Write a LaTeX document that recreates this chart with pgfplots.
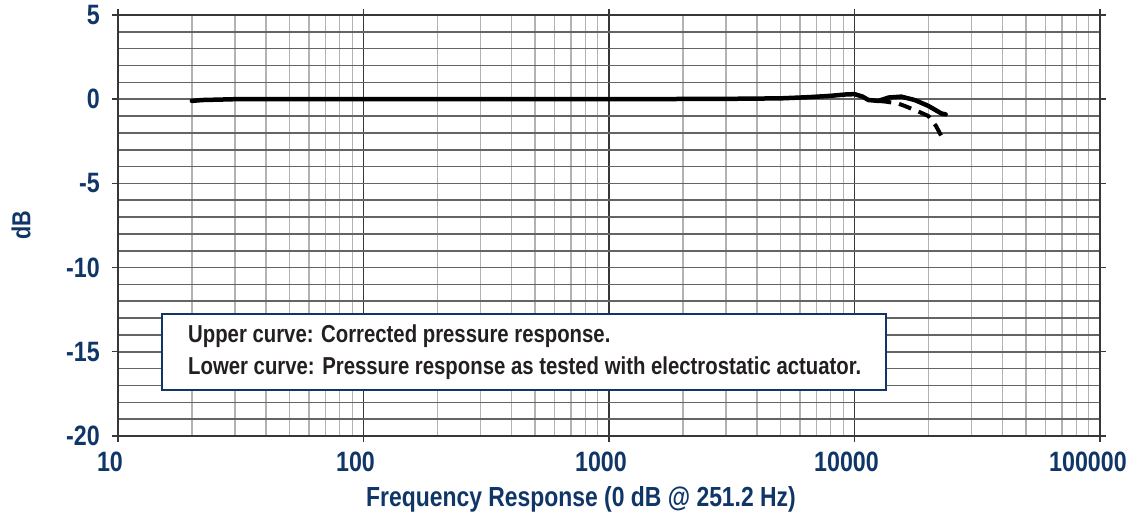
\documentclass[border=0pt]{standalone}
\usepackage{fontspec}
\setmainfont{Liberation Sans}[FakeStretch=0.83]
\usepackage{pgfplots}
\pgfplotsset{compat=1.18}
\definecolor{lblue}{RGB}{16,54,104}
\definecolor{txtblack}{RGB}{35,31,32}
\definecolor{hgrid}{RGB}{100,100,100}
\definecolor{vgrid}{RGB}{178,178,178}
\definecolor{dgrid}{RGB}{55,55,55}
\begin{document}
\begin{tikzpicture}
\begin{axis}[
  scale only axis,
  width=982pt, height=421pt,
  xmode=log, xmin=10, xmax=100000,
  ymin=-20, ymax=5,
  xtick={10,100,1000,10000,100000},
  xticklabels={10,100,1000,10000,\hspace*{-8pt}100000},
  minor xtick={20,30,40,50,60,70,80,90,200,300,400,500,600,700,800,900,2000,3000,4000,5000,6000,7000,8000,9000,20000,30000,40000,50000,60000,70000,80000,90000},
  ytick={-20,-15,-10,-5,0,5},
  yticklabels={-20,-15,-10,-5,0,5},
  minor ytick={-19,-18,-17,-16,-14,-13,-12,-11,-9,-8,-7,-6,-4,-3,-2,-1,1,2,3,4},
  grid=both,
  major x grid style={dgrid, line width=1.3pt},
  minor x grid style={vgrid, line width=1.4pt},
  major y grid style={hgrid, line width=1.6pt},
  minor y grid style={hgrid, line width=1.6pt},
  axis line style={dgrid, line width=1.6pt},
  tick align=outside,
  major tick length=6pt,
  minor tick length=0pt,
  tick style={dgrid, line width=1.4pt},
  ticklabel style={font=\bfseries\fontsize{28}{30}\selectfont, text=lblue, inner sep=0pt},
  xticklabel style={anchor=north, yshift=-10pt, xshift=-8pt},
  yticklabel style={anchor=east, xshift=-12pt},
  clip=false,
]
\addplot[black, line width=4.5pt, line join=round, line cap=round] coordinates {
(20,-0.1) (22,-0.05) (30,0) (100,0) (300,0.0) (1000,0) (3000,0.02) (5000,0.05)
(6500,0.12) (8000,0.2) (9200,0.28) (10000,0.3) (10800,0.15) (11400,-0.05)
(12500,-0.1) (13800,0.1) (15500,0.15) (17600,-0.05) (20000,-0.4) (22600,-0.85) (23500,-0.9)
};
\addplot[black, line width=4pt, dash pattern=on 13pt off 8pt] coordinates {
(12500,-0.1) (13500,-0.15) (15000,-0.25) (16000,-0.4) (18000,-0.7) (20000,-1.0) (21500,-1.6) (22600,-2.2)
};
\coordinate (sw) at (rel axis cs:0,0);
\coordinate (ne) at (rel axis cs:1,1);
\coordinate (wm) at (rel axis cs:0,0.5);
\end{axis}
\node[draw=lblue, line width=2pt, fill=white, anchor=north west, minimum width=724pt, minimum height=76pt, inner sep=0pt] at ([shift={(43pt,123pt)}]sw) {};
\node[anchor=base west, inner sep=0pt, text=txtblack, font=\bfseries\fontsize{24.5}{26}\selectfont] at ([shift={(70pt,93pt)}]sw) {Upper curve: Corrected pressure response.};
\node[anchor=base west, inner sep=0pt, text=txtblack, font=\bfseries\fontsize{24.5}{26}\selectfont] at ([shift={(70pt,61pt)}]sw) {Lower curve: Pressure response as tested with electrostatic actuator.};
\node[anchor=base, inner sep=0pt, text=lblue, font=\bfseries\fontsize{27.6}{30}\selectfont] at ([shift={(463pt,-71pt)}]sw) {Frequency Response (0 dB @ 251.2 Hz)};
\node[rotate=90, inner sep=0pt, text=lblue, font=\bfseries\fontsize{26}{30}\selectfont] at ([xshift=-97pt]wm) {dB};
\pgfresetboundingbox
\path ([shift={(-118pt,-80pt)}]sw) rectangle ([shift={(32pt,15pt)}]ne);
\end{tikzpicture}
\end{document}
